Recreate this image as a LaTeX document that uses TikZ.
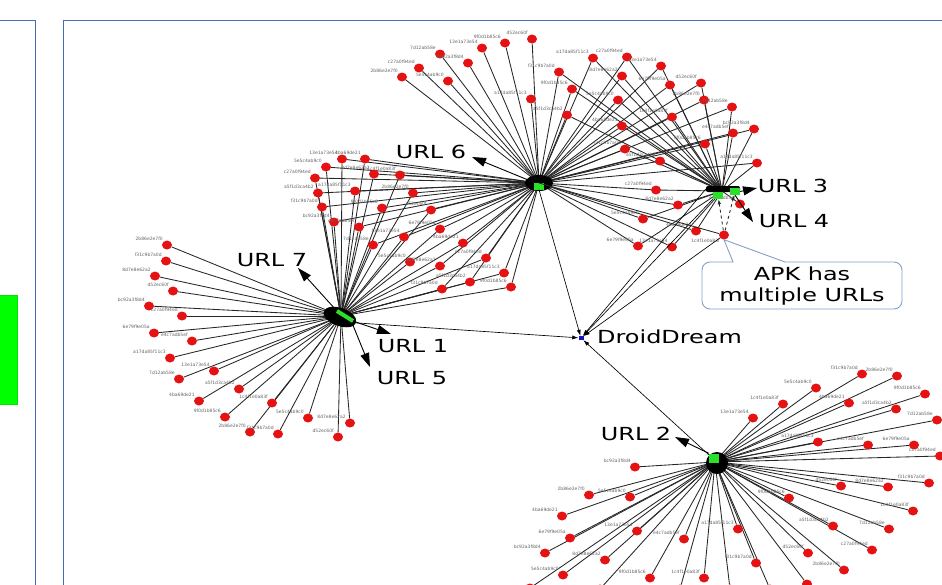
\documentclass[tikz,border=0pt]{standalone}
\usepackage{graphicx}
\usepackage{fontspec}
\setmainfont{DejaVu Sans}
\usetikzlibrary{arrows.meta,shapes.geometric}
\pgfdeclarelayer{bg}
\pgfsetlayers{bg,main}
\definecolor{panelblue}{RGB}{70,110,180}
\definecolor{reddot}{RGB}{228,18,18}
\definecolor{hubgreen}{RGB}{40,225,40}
\definecolor{calloutc}{RGB}{130,160,200}
\definecolor{ddblue}{RGB}{20,20,200}
\newcommand\hexlbl[1]{\ifcase#1 a17da85f11c3\or 5e5c4ab9c0\or 6e79f9e05a\or 1c4f1e0a83f\or bc92a3f8d4\or a5f1d3ca4b2\or 8d7e8e62a2\or 13e1a73e54\or 2b86e2e7f0\or e4c7adb5ef\or 9f0d1b85c6\or c27a0f94ed\or 4ba69de21\or d52ec60f\or 7d12ab58e\or f31c9b7a0d\fi}
\newcommand\wide[1]{\scalebox{1.33}[1]{#1}}
\begin{document}
\begin{tikzpicture}[x=1pt,y=-1pt,
 redn/.style={ellipse,fill=reddot,inner sep=0pt,minimum width=10pt,minimum height=9pt},
 lbl/.style={font=\fontsize{4.5}{5}\selectfont,text=black!60,inner sep=0.6pt},
 edge/.style={black!85,line width=0.85pt},
 big/.style={font=\fontsize{18}{21}\selectfont,inner sep=0pt},
 urlarrow/.style={line width=0.9pt,-{Triangle[length=14pt,width=9pt]}},
 ddarrow/.style={line width=0.65pt,-{Latex[length=6pt,width=4pt]}},
 panel/.style={draw=panelblue,line width=1pt},
 greenbox/.style={fill=hubgreen,inner sep=0pt,minimum width=10pt,minimum height=7pt},
 callout/.style={draw=calloutc,line width=0.9pt,fill=white}]
\useasboundingbox (0,0) rectangle (942,584);
\clip (0,0) rectangle (942,584);
% panels
\draw[panel] (-2,20) -- (35,20) -- (35,590);
\draw[panel] (63,590) -- (63,20) -- (950,20);
\fill[green!90!black] (-2,295) rectangle (18,405);
\fill[green] (-2,296) rectangle (17,404);
% hub positions
\coordinate (h6) at (539,183);
\coordinate (h7) at (341,316);
\coordinate (h3) at (722,191);
\coordinate (h2) at (715,462);
% G7: only to hub 7
\foreach \x/\y [count=\i] in {167/245,166/261,155/276,173/291,149/306,182/316,154/333,192/341,170/358,214/371,179/379,239/389,199/401,272/403,225/417,308/418,250/432,278/434,350/423,338/437}{
 \pgfmathtruncatemacro\k{mod(\i*7+1,16)}
 \edef\lt{\hexlbl{\k}}
 \node[redn,label={[lbl]above left:\lt}] (a\i) at (\x,\y) {};
 \begin{pgfonlayer}{bg}\draw[edge] (a\i) -- (h7);\end{pgfonlayer}
}
% G67: to hubs 6 and 7
\foreach \x/\y [count=\i] in {342/159,365/159,326/167,374/174,315/178,355/191,318/193,382/208,322/207,334/222,359/227,373/245,400/175,413/193,431/210,440/229,404/237,463/243,410/262,440/266,486/258,504/273,470/282,511/287,442/289}{
 \pgfmathtruncatemacro\k{mod(\i*5+2,16)}
 \edef\lt{\hexlbl{\k}}
 \node[redn,label={[lbl]above left:\lt}] (b\i) at (\x,\y) {};
 \begin{pgfonlayer}{bg}\draw[edge] (b\i) -- (h7); \draw[edge] (b\i) -- (h6);\end{pgfonlayer}
}
% G6: only to hub 6
\foreach \x/\y [count=\i] in {402/77,419/68,440/54,448/81,468/63,482/48,505/43,532/39,531/99}{
 \pgfmathtruncatemacro\k{mod(\i*3+5,16)}
 \edef\lt{\hexlbl{\k}}
 \node[redn,label={[lbl]above left:\lt}] (c\i) at (\x,\y) {};
 \begin{pgfonlayer}{bg}\draw[edge] (c\i) -- (h6);\end{pgfonlayer}
}
% G63: to hubs 6 and 3
\foreach \x/\y [count=\i] in {559/72,572/89,567/115,593/58,627/57,622/76,618/100,622/126,661/66,670/85,701/83,704/100,672/117,732/107,733/133,754/129,625/149,705/144,660/161,757/163,656/190,678/205,643/219,696/231,672/247,638/246}{
 \pgfmathtruncatemacro\k{mod(\i*11+4,16)}
 \edef\lt{\hexlbl{\k}}
 \node[redn,label={[lbl]above left:\lt}] (d\i) at (\x,\y) {};
 \begin{pgfonlayer}{bg}\draw[edge] (d\i) -- (h3); \draw[edge] (d\i) -- (h6);\end{pgfonlayer}
}
\node[redn,label={[lbl]above left:\hexlbl{9}}] (e1) at (740,204) {};
\begin{pgfonlayer}{bg}\draw[edge] (e1) -- (h3);\end{pgfonlayer}
% G2: to hub 2
\foreach \x/\y [count=\i] in {862/374,897/376,816/388,925/394,783/404,849/403,896/409,937/420,753/418,818/442,868/445,914/445,940/456,635/467,841/486,888/487,929/483,589/495,630/497,789/498,913/511,562/516,833/526,889/529,637/531,738/529,684/539,570/538,872/550,545/553,808/553,605/560,756/563,844/570,563/575,650/578,704/578}{
 \pgfmathtruncatemacro\k{mod(\i*9+6,16)}
 \edef\lt{\hexlbl{\k}}
 \node[redn,label={[lbl]above left:\lt}] (f\i) at (\x,\y) {};
 \begin{pgfonlayer}{bg}\draw[edge] (f\i) -- (h2);\end{pgfonlayer}
}
% nodes cut by the lower edge
\foreach \x/\y [count=\i] in {807/584,530/588,600/589,680/589,730/589,770/589}{
 \node[redn] (g\i) at (\x,\y) {};
 \begin{pgfonlayer}{bg}\draw[edge] (g\i) -- (h2);\end{pgfonlayer}
}
% APK node
\node[redn,label={[lbl]below left:\hexlbl{3}}] (apk) at (724,235) {};
% DroidDream node
\node[fill=ddblue,inner sep=0pt,minimum width=5pt,minimum height=4pt] (dd) at (581,338) {};
\node[big,anchor=west] (ddl) at (597,337) {\wide{DroidDream}};
% hub blobs
\node[ellipse,fill=black,inner sep=0pt,minimum width=28pt,minimum height=16pt] (b6) at (539,183) {};
\node[greenbox] (g6) at (539,186) {};
\node[ellipse,fill=black,inner sep=0pt,minimum width=34pt,minimum height=18pt,rotate=-20] (b7) at (340,317) {};
\node[fill=hubgreen,inner sep=0pt,minimum width=19pt,minimum height=4pt,rotate=-32] (g7) at (345,316) {};
\node[fill=black,inner sep=0pt,minimum width=34pt,minimum height=6pt,rounded corners=2pt] (b3) at (723,189) {};
\node[greenbox] (g3) at (735,191.5) {};
\node[greenbox] (g4) at (718,195.5) {};
\node[circle,fill=black,inner sep=0pt,minimum size=22pt] (b2) at (717,463) {};
\node[greenbox,minimum height=9pt] (g2) at (714,458) {};
% edges into DroidDream
\draw[ddarrow] (g6.south) -- (dd);
\draw[ddarrow] (b7.east) -- (dd);
\draw[ddarrow] (b2.north west) -- (dd);
\draw[ddarrow] (g4.south west) -- (dd);
\draw[ddarrow] (b3.west) -- (dd);
\draw[ddarrow] (apk) -- (dd);
\draw[edge] (apk) -- (h6);
\draw[edge,dashed,-{Latex[length=5pt,width=3.5pt]}] (apk) -- (g4);
\draw[edge,dashed,-{Latex[length=5pt,width=3.5pt]}] (apk) -- (g3);
% URL labels
\node[big] (u6) at (431,152) {\wide{URL 6}};
\node[big] (u7) at (272,260) {\wide{URL 7}};
\node[big] (u1) at (413,346) {\wide{URL 1}};
\node[big] (u5) at (412,378) {\wide{URL 5}};
\node[big] (u3) at (793,186) {\wide{URL 3}};
\node[big] (u4) at (794,221) {\wide{URL 4}};
\node[big] (u2) at (636,434) {\wide{URL 2}};
\coordinate (t6) at (472,157);
\coordinate (t7) at (298,268);
\coordinate (t1) at (391,334);
\coordinate (t5) at (370,367);
\coordinate (t3) at (757,188);
\coordinate (t4) at (753,222);
\coordinate (t2) at (675,437);
\draw[urlarrow] (g6.north west) -- (t6);
\draw[urlarrow] (g7.west) -- (t7);
\draw[urlarrow] (g7.east) -- (t1);
\draw[urlarrow] (g7.south east) -- (t5);
\draw[urlarrow] (g3.east) -- (t3);
\draw[urlarrow] (g3.south) -- (t4);
\draw[urlarrow] (g2.north west) -- (t2);
% callout
\draw[callout] (733,262) -- (apk.south) -- (785,262) [rounded corners=8pt] -- (902,262) -- (902,309) -- (702,309) -- (702,262) [sharp corners] -- cycle;
\node[big,align=center] (apkt) at (802,286) {\wide{APK has}\\\wide{multiple URLs}};
\end{tikzpicture}
\end{document}
